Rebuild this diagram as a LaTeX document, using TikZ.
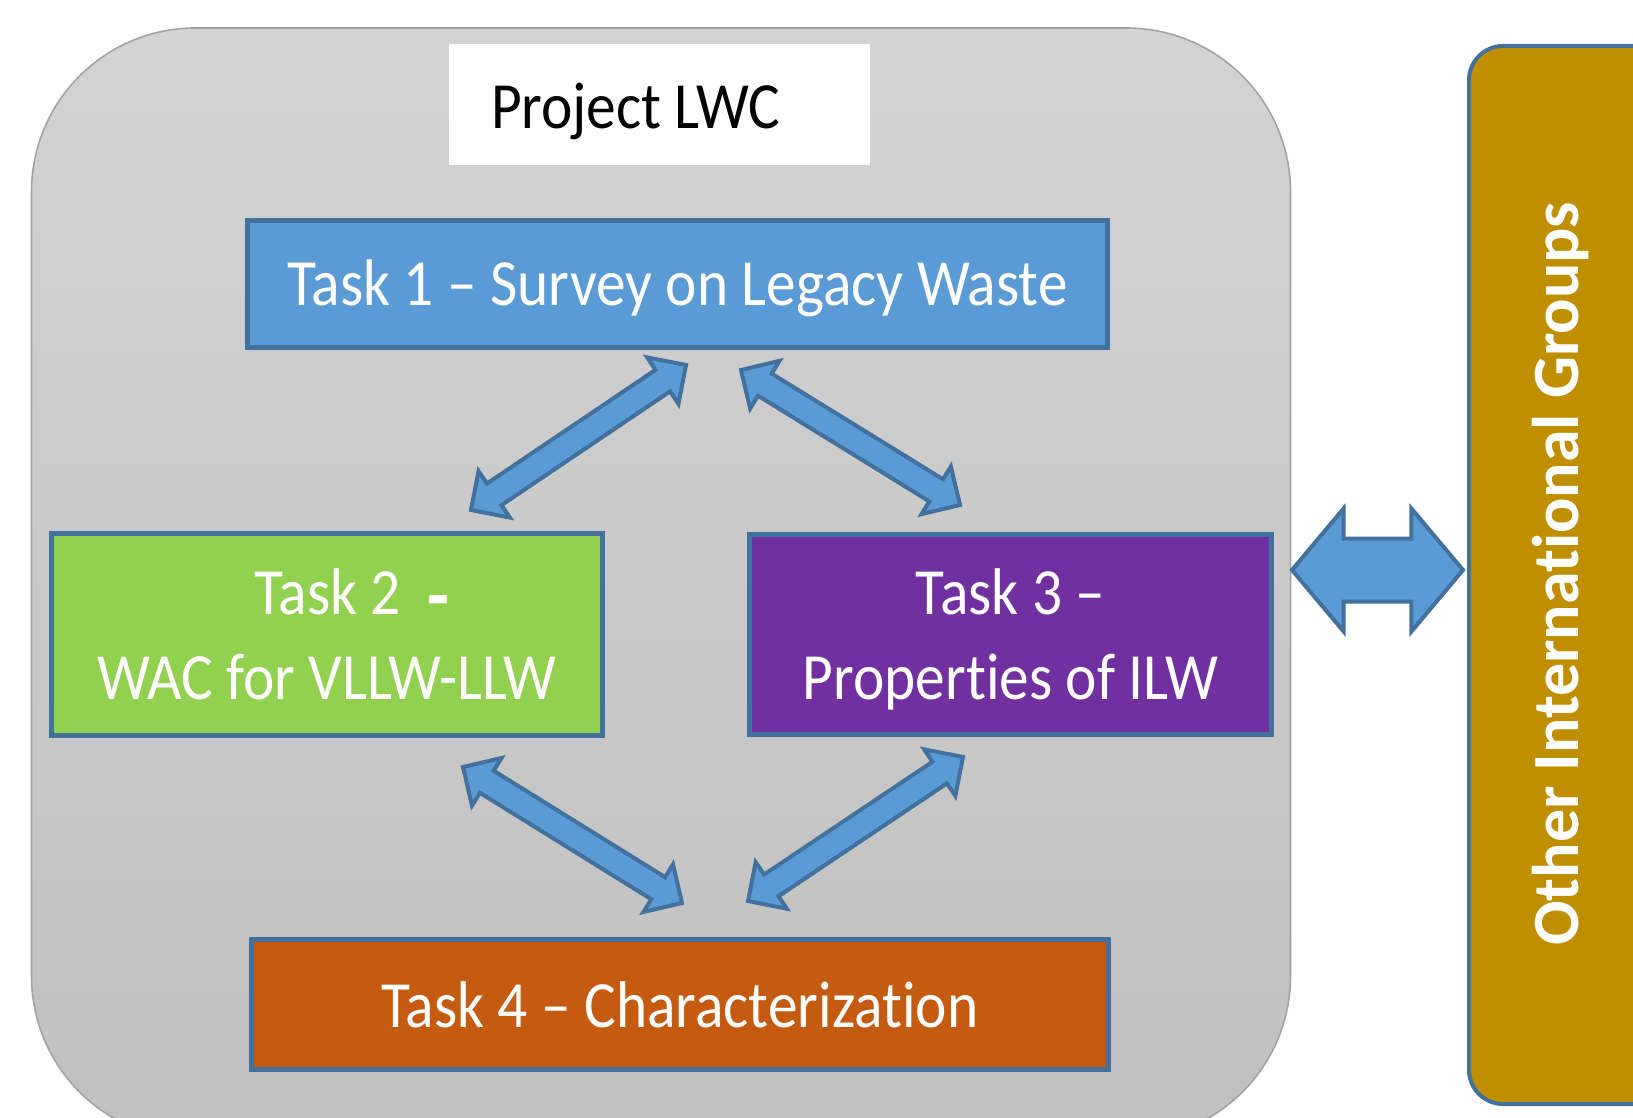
\documentclass[tikz,border=0pt]{standalone}
\usepackage{fontspec}
\setmainfont{Carlito}[FakeStretch=0.9,Ligatures={TeX,NoCommon}]
\newfontfamily\groupfont{Carlito}[Ligatures={TeX,NoCommon}]
\usetikzlibrary{shapes.arrows,calc}

\definecolor{edgeblue}{HTML}{41719C}
\definecolor{taskblue}{HTML}{5B9BD5}
\definecolor{taskgreen}{HTML}{92D050}
\definecolor{taskpurple}{HTML}{7030A0}
\definecolor{taskorange}{HTML}{C55A11}
\definecolor{groupgold}{HTML}{BF8F00}
\definecolor{projtop}{HTML}{D3D3D3}
\definecolor{projbottom}{HTML}{C0C0C0}
\definecolor{projedge}{HTML}{A3A3A3}

\tikzstyle{task} = [rectangle,draw=edgeblue,line width=2.5pt,text=white,align=center,inner sep=0pt,font=\fontsize{33}{42.5}\selectfont]
\tikzstyle{project} = [rectangle,rounded corners=82pt,draw=projedge,line width=0.8pt,top color=projtop,bottom color=projbottom]
\tikzstyle{groups} = [rectangle,rounded corners=17pt,draw=edgeblue,line width=2pt,fill=groupgold]
\tikzstyle{title} = [rectangle,fill=white,inner xsep=21pt,inner ysep=0pt,font=\fontsize{33}{37}\selectfont]
\tikzstyle{link} = [double arrow,draw=edgeblue,fill=taskblue,line width=2pt,inner sep=5.5pt,double arrow head extend=7.5pt,double arrow tip angle=90]
\tikzstyle{bigarrow} = [link,inner sep=14.75pt,double arrow head extend=15pt,double arrow tip angle=100]

\begin{document}
\begin{tikzpicture}[x=0.5pt,y=-0.5pt]
    \clip (0,0) rectangle (1633,1118);
    % frames
    \node[project,minimum width=629.5pt,minimum height=556pt] (proj) at (661,584) {};
    \node[groups,minimum width=115.5pt,minimum height=529pt] (groups) at (1584.5,575) {};
    \node[rotate=90,text=white,font=\groupfont\fontsize{33}{38}\selectfont\bfseries] (grouplabel) at (1561,574) {Other International Groups};
    \node[title,minimum height=60.5pt,text height=30pt,text depth=6pt] (lwc) at (659.5,104.5) {\makebox[168.5pt][l]{Project LWC}};
    % tasks
    \node[task,fill=taskblue,minimum width=430pt,minimum height=63.5pt,text depth=1pt,font=\fontsize{33}{40}\selectfont] (t1) at (677.5,284) {Task 1 – Survey on Legacy Waste};
    \node[task,fill=taskgreen,minimum width=275.5pt,minimum height=101pt,text depth=-5pt] (t2) at (327,634.5) {\hspace*{25pt}Task 2~~\raisebox{-4pt}{\fontsize{40}{40}\selectfont\bfseries -}\\WAC for VLLW-LLW};
    \node[task,fill=taskpurple,minimum width=261pt,minimum height=100pt,text depth=-3pt] (t3) at (1010.5,634.5) {Task 3 –\\Properties of ILW};
    \node[task,fill=taskorange,minimum width=428.5pt,minimum height=65pt] (t4) at (680,1004.5) {Task 4 – Characterization};
    % arrow ends
    \foreach \name/\x/\y in {c12/686/365, c21/471/510, c13/741/370, c31/960/505,
      c24/463/767, c42/682/903, c34/963/757, c43/748/901, b1/1292/570, b2/1463/570}
      \coordinate (\name) at (\x,\y);
    % arrows
    \foreach \from/\to in {c12/c21, c13/c31, c24/c42, c34/c43}
    {
      \path let \p1=($(\to)-(\from)$), \n1={atan2(\y1,\x1)}, \n2={veclen(\x1,\y1)} in
        node[link,rotate=\n1,minimum height=\n2] (\from\to) at ($(\from)!0.5!(\to)$) {};
    }
    \path let \p1=($(b2)-(b1)$) in
      node[bigarrow,minimum height=\x1] (bridge) at ($(b1)!0.5!(b2)$) {};
\end{tikzpicture}
\end{document}
